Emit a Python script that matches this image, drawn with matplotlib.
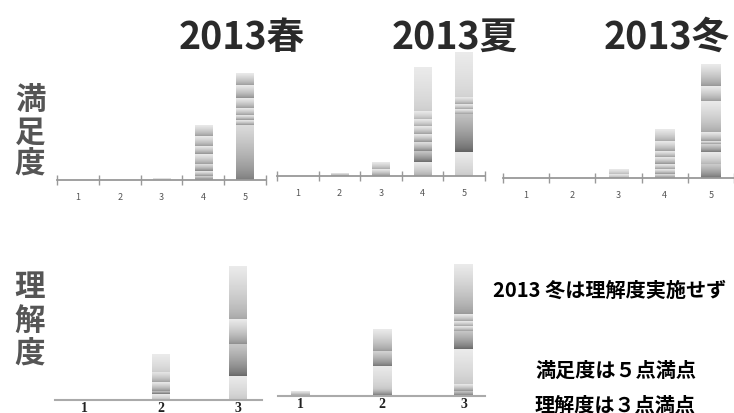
import numpy as np
import matplotlib
matplotlib.use("Agg")
import matplotlib.pyplot as plt

plt.rcParams['font.family'] = ['Noto Sans CJK JP', 'DejaVu Sans']

W, H = 734, 414

# satisfaction (5-point), stacked bands per score, bottom band first
sat_cats = [1, 2, 3, 4, 5]
sat_spring = [[], [], [2], [4, 5, 7, 10, 8, 10, 11], [55, 5, 5, 7, 10, 13, 12]]
sat_summer = [[], [3], [7, 7], [14, 11, 9, 8, 8, 7, 8, 44], [24, 38, 5, 5, 7, 45]]
sat_winter = [[], [], [4, 5], [4, 5, 5, 7, 6, 10, 12], [14, 12, 8, 3, 9, 31, 15, 22]]

# understanding (3-point); none for winter
und_cats = [1, 2, 3]
und_spring = [[], [6, 3, 9, 10, 18], [24, 32, 25, 53]]
und_summer = [[5], [7, 23, 15, 22], [5, 7, 35, 18, 5, 5, 7, 50]]

seasons = ["2013春", "2013夏", "2013冬"]

# grey level at the foot of each band (same nesting as the data)
tone_sat = [
    [[], [], [0.75], [0.45, 0.55, 0.5, 0.6, 0.55, 0.6, 0.6],
     [0.48, 0.55, 0.55, 0.6, 0.6, 0.55, 0.6]],
    [[], [0.55], [0.55, 0.65], [0.65, 0.4, 0.5, 0.55, 0.6, 0.65, 0.7, 0.8],
     [0.78, 0.38, 0.6, 0.62, 0.62, 0.82]],
    [[], [], [0.65, 0.72], [0.5, 0.55, 0.6, 0.55, 0.6, 0.6, 0.65],
     [0.42, 0.7, 0.45, 0.55, 0.58, 0.65, 0.6, 0.58]],
]
tone_und = [
    [[], [0.72, 0.4, 0.55, 0.62, 0.8], [0.78, 0.4, 0.55, 0.65]],
    [[0.55], [0.4, 0.78, 0.45, 0.6], [0.4, 0.55, 0.78, 0.4, 0.58, 0.62, 0.62, 0.6]],
]

fig = plt.figure(figsize=(W / 100, H / 100), dpi=100)


def px_axes(x0, x1, top, base):
    return fig.add_axes([x0 / W, 1 - base / H, (x1 - x0) / W, (base - top) / H])


def px_text(x, y, s, **kw):
    fig.text(x / W, 1 - y / H, s, **kw)


def stacked(ax, cats, bands, tones, width):
    ramp = np.linspace(0, 1, 64) ** 0.7
    for x, segs, tn in zip(cats, bands, tones):
        cum = 0
        for seg, t in zip(segs, tn):
            rect = ax.bar(x, seg, width, bottom=cum, color="none",
                          edgecolor="none")[0]
            top = min(t + 0.38, 0.92)
            grad = (t + (top - t) * ramp).reshape(-1, 1)
            ax.imshow(grad, extent=[rect.get_x(), rect.get_x() + width,
                                    cum, cum + seg],
                      origin="lower", cmap="gray", vmin=0, vmax=1,
                      aspect="auto", interpolation="bicubic", zorder=2)
            cum += seg


def clean(ax):
    for s in ("top", "right", "left"):
        ax.spines[s].set_visible(False)
    ax.set_yticks([])
    ax.patch.set_alpha(0)


# top row: satisfaction
top_boxes = [(57, 266, 181), (277, 485, 177), (503, 734, 179)]
for (x0, x1, base), data, tones in zip(top_boxes,
                                       [sat_spring, sat_summer, sat_winter],
                                       tone_sat):
    ax = px_axes(x0, x1, base - 135, base)
    stacked(ax, sat_cats, data, tones, 0.42)
    ax.set_xlim(0.5, 5.5)
    ax.set_ylim(0, 135)
    clean(ax)
    ax.spines["bottom"].set_color("#999999")
    ax.spines["bottom"].set_linewidth(1.3)
    ax.set_xticks(sat_cats)
    ax.set_xticks(np.arange(0.5, 6, 1), minor=True)
    ax.tick_params(axis="x", which="major", length=0, pad=9,
                   labelsize=6.5, labelcolor="#555555")
    ax.tick_params(axis="x", which="minor", length=7, width=1,
                   direction="inout", color="#999999")

# bottom row: understanding
bot_boxes = [(55, 262, 401, (0.62, 3.31)), (278, 485, 397, (0.73, 3.26))]
for (x0, x1, base, xl), data, tones in zip(bot_boxes,
                                           [und_spring, und_summer],
                                           tone_und):
    ax = px_axes(x0, x1, base - 150, base)
    stacked(ax, und_cats, data, tones, 0.23)
    ax.set_xlim(*xl)
    ax.set_ylim(0, 150)
    clean(ax)
    ax.spines["bottom"].set_color("#aaaaaa")
    ax.spines["bottom"].set_linewidth(1.5)
    ax.set_xticks(und_cats)
    ax.tick_params(axis="x", length=0, pad=0.5, labelsize=10,
                   labelcolor="#222222")
    for lab in ax.get_xticklabels():
        lab.set_family("Liberation Serif")
        lab.set_fontweight("bold")

# season headings
for x, s in zip([242, 455, 667], seasons):
    px_text(x, 37, s, fontsize=27, color="#2a2a2a", fontweight="bold",
            ha="center", va="center")

# row headings, one character per line
for y, ch in zip([100, 133, 165], "満足度"):
    px_text(30, y, ch, fontsize=22, color="#555555", fontweight="bold",
            ha="center", va="center")
for y, ch in zip([287, 322, 355], "理解度"):
    px_text(30, y, ch, fontsize=22, color="#555555", fontweight="bold",
            ha="center", va="center")

# notes
px_text(493, 290, "2013 冬は理解度実施せず", fontsize=14.5, fontweight="bold",
        color="black", ha="left", va="center")
px_text(535, 370, "満足度は５点満点", fontsize=14.5, fontweight="bold",
        color="black", ha="left", va="center")
px_text(535, 405, "理解度は３点満点", fontsize=14.5, fontweight="bold",
        color="black", ha="left", va="center")

fig.savefig("out.png", dpi=100)
